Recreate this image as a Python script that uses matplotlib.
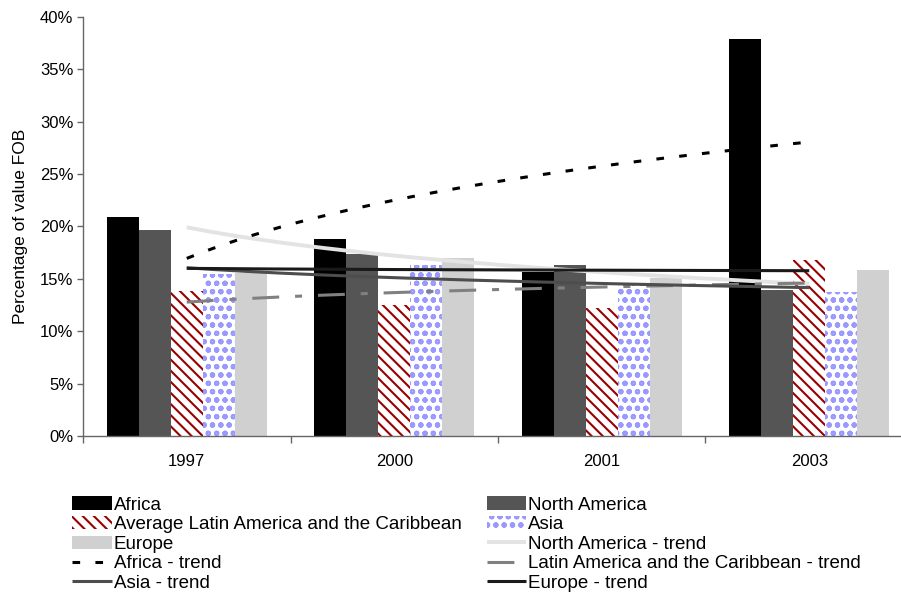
import numpy as np
import matplotlib
matplotlib.use("Agg")
import matplotlib.pyplot as plt
from matplotlib.ticker import PercentFormatter, FixedLocator

plt.rcParams['font.family'] = ['Liberation Sans', 'DejaVu Sans']
plt.rcParams['hatch.linewidth'] = 1.5

years = ['1997', '2000', '2001', '2003']
africa = [20.9, 18.8, 15.7, 37.9]
north_america = [19.7, 17.4, 16.3, 13.9]
latin_america = [13.8, 12.5, 12.2, 16.8]
asia = [15.5, 16.3, 14.4, 13.7]
europe = [15.6, 17.0, 15.1, 15.8]

fig = plt.figure(figsize=(9.01, 5.92), dpi=100)
ax = fig.add_axes([83 / 901, 1 - 436 / 592, 830 / 901, 419 / 592])

x = np.arange(len(years))
w = 0.154

b_af = ax.bar(x - 2 * w, africa, w, color='black', label='Africa')
b_na = ax.bar(x - w, north_america, w, color='#555555', label='North America')
b_la = ax.bar(x, latin_america, w, color='white', edgecolor='#990000', hatch='\\\\\\',
              linewidth=0, label='Average Latin America and the Caribbean')
b_as = ax.bar(x + w, asia, w, color='white', edgecolor='#9999ff', hatch='oo',
              linewidth=0, label='Asia')
b_eu = ax.bar(x + 2 * w, europe, w, color='#d0d0d0', label='Europe')


# logarithmic trend lines, y = a + b*ln(n) with n = 1..4
def log_trend(values):
    n = x + 1
    b, a = np.polyfit(np.log(n), values, 1)
    xs = np.linspace(0, len(values) - 1, 200)
    return xs, a + b * np.log(xs + 1)


lw = 2.2
xs, ys = log_trend(north_america)
l_na, = ax.plot(xs, ys, color='#e3e3e3', lw=lw + 0.6, solid_capstyle='butt',
                label='North America - trend')
xs, ys = log_trend(africa)
l_af, = ax.plot(xs, ys, color='black', lw=lw, linestyle=(0, (2.5, 5)),
                label='Africa - trend')
xs, ys = log_trend(latin_america)
l_la, = ax.plot(xs, ys, color='#808080', lw=lw, linestyle=(0, (8.8, 5.2, 2.3, 5.2)),
                label='Latin America and the Caribbean - trend')
xs, ys = log_trend(asia)
l_as, = ax.plot(xs, ys, color='#4d4d4d', lw=lw, solid_capstyle='butt', label='Asia - trend')
xs, ys = log_trend(europe)
l_eu, = ax.plot(xs, ys, color='#1a1a1a', lw=lw, solid_capstyle='butt', label='Europe - trend')

ax.set_xlim(-0.5, len(years) - 0.5)
ax.set_ylim(0, 40)
ax.set_yticks(np.arange(0, 41, 5))
ax.yaxis.set_major_formatter(PercentFormatter(decimals=0))
ax.set_xticks(x)
ax.set_xticklabels(years)
ax.xaxis.set_minor_locator(FixedLocator(np.arange(-0.5, len(years), 1.0)))
ax.tick_params(axis='x', which='major', length=0, pad=13, labelsize=12)
ax.tick_params(axis='x', which='minor', length=5, width=1, color='#666666', direction='out')
ax.tick_params(axis='y', length=4, width=1, color='#666666', pad=3, labelsize=12)
ax.set_ylabel('Percentage of value FOB', fontsize=12.5)
ax.yaxis.set_label_coords(-0.066, 0.5)

for side in ['top', 'right']:
    ax.spines[side].set_visible(False)
for side in ['left', 'bottom']:
    ax.spines[side].set_color('#666666')
    ax.spines[side].set_linewidth(1)

# two columns, filled row by row
handles = [b_af, b_la, b_eu, l_af, l_as, b_na, b_as, l_na, l_la, l_eu]
labels = [h.get_label() for h in handles]
fig.legend(handles, labels, loc='upper left', ncol=2, frameon=False,
           bbox_to_anchor=(63 / 901, 1 - 487 / 592), bbox_transform=fig.transFigure,
           fontsize=13.5, borderpad=0, labelspacing=0.13, handlelength=2.1,
           handletextpad=0.1, columnspacing=1.35)

fig.savefig('out.png', dpi=100)
